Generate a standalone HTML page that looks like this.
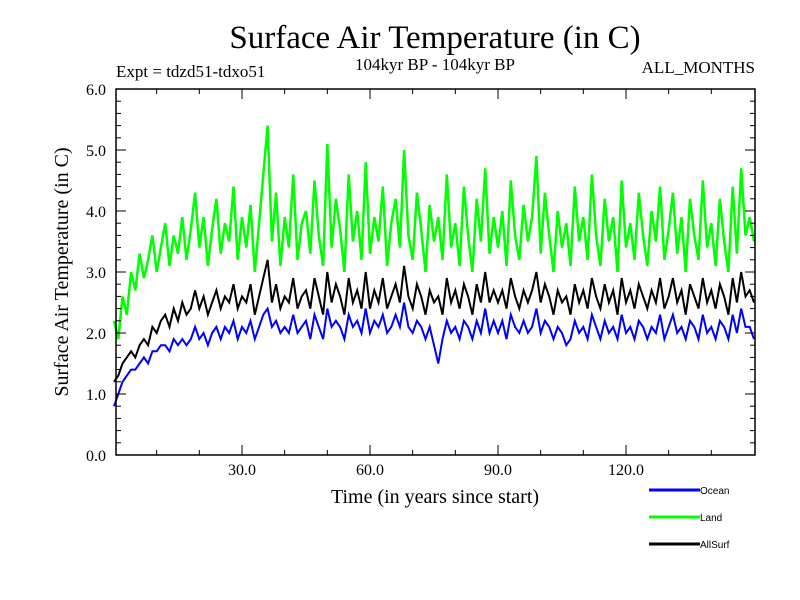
<!DOCTYPE html>
<html><head><meta charset="utf-8"><style>
body{margin:0;background:#fff;}
svg{display:block;font-family:"Liberation Serif",serif;}
</style></head><body>
<svg id="chart" width="800" height="600">
<text x="435" y="48" font-size="33" text-anchor="middle">Surface Air Temperature (in C)</text>
<text x="116" y="77" font-size="17">Expt = tdzd51-tdxo51</text>
<text x="435" y="70" font-size="17" text-anchor="middle">104kyr BP - 104kyr BP</text>
<text x="755" y="73" font-size="17" text-anchor="end">ALL_MONTHS</text>
<text transform="translate(68,272) rotate(-90)" font-size="20" text-anchor="middle">Surface Air Temperature (in C)</text>
<text x="435" y="503" font-size="20" text-anchor="middle">Time (in years since start)</text>
<g id="series"></g>
<g id="axes"></g>
<g id="legend"></g>
</svg>
<script>
const years=[];for(let i=0;i<=150;i++)years.push(i);
const yTicks=[0,1,2,3,4,5,6];
const yTickLabels=["0.0","1.0","2.0","3.0","4.0","5.0","6.0"];
const xTicks=[30,60,90,120];
const xTickLabels=["30.0","60.0","90.0","120.0"];
const land=[2.2,1.9,2.6,2.3,3.0,2.7,3.3,2.9,3.2,3.6,3.0,3.4,3.8,3.1,3.6,3.3,3.9,3.2,3.7,4.3,3.4,3.9,3.1,3.7,4.2,3.3,3.8,3.5,4.4,3.2,3.9,3.4,4.1,3.0,3.8,4.6,5.4,3.5,4.3,3.1,3.9,3.4,4.6,3.2,3.8,4.0,3.3,4.5,3.6,3.1,5.1,3.4,4.2,3.7,3.0,4.6,3.5,4.0,3.2,4.8,3.3,3.9,3.5,4.4,3.1,3.8,4.2,3.4,5.0,3.6,3.2,4.3,3.7,3.0,4.1,3.5,3.9,3.2,4.6,3.4,3.8,3.1,4.4,3.6,3.0,4.2,3.5,4.7,3.3,3.9,3.4,4.0,3.1,4.5,3.6,3.2,4.1,3.5,3.9,4.9,3.3,4.3,3.6,3.0,4.0,3.4,3.8,3.1,4.4,3.5,3.9,3.2,4.6,3.6,3.1,4.2,3.5,3.9,3.0,4.5,3.4,3.8,3.2,4.3,3.6,3.1,4.0,3.5,4.4,3.2,3.7,4.3,3.3,3.9,3.0,4.2,3.6,3.2,4.5,3.4,3.8,3.1,4.2,3.5,3.0,4.4,3.3,4.7,3.6,3.9,3.5];
const allSurf=[1.2,1.3,1.5,1.6,1.7,1.6,1.8,1.9,1.8,2.1,2.0,2.2,2.3,2.1,2.4,2.2,2.5,2.3,2.4,2.7,2.4,2.6,2.3,2.5,2.7,2.4,2.6,2.5,2.8,2.4,2.6,2.5,2.8,2.3,2.6,2.9,3.2,2.5,2.8,2.4,2.6,2.5,2.9,2.4,2.6,2.7,2.4,2.9,2.6,2.3,3.0,2.5,2.8,2.6,2.3,2.9,2.5,2.7,2.4,3.0,2.4,2.7,2.5,2.9,2.4,2.6,2.8,2.5,3.1,2.6,2.4,2.8,2.6,2.3,2.7,2.5,2.6,2.3,2.9,2.5,2.7,2.4,2.8,2.6,2.3,2.8,2.5,3.0,2.5,2.7,2.5,2.7,2.4,2.9,2.6,2.4,2.7,2.5,2.7,3.0,2.5,2.8,2.6,2.3,2.7,2.5,2.6,2.3,2.8,2.5,2.7,2.4,2.9,2.6,2.4,2.8,2.5,2.7,2.3,2.9,2.5,2.7,2.4,2.8,2.6,2.4,2.7,2.5,2.9,2.4,2.6,2.9,2.5,2.7,2.3,2.8,2.6,2.4,2.9,2.5,2.7,2.4,2.8,2.6,2.3,2.9,2.5,3.0,2.6,2.7,2.5];
const ocean=[0.8,1.0,1.2,1.3,1.4,1.4,1.5,1.6,1.5,1.7,1.7,1.8,1.8,1.7,1.9,1.8,1.9,1.8,1.9,2.1,1.9,2.0,1.8,2.0,2.1,1.9,2.1,2.0,2.2,1.9,2.1,2.0,2.2,1.9,2.1,2.3,2.4,2.1,2.2,2.0,2.1,2.0,2.3,2.0,2.1,2.2,1.9,2.3,2.1,1.9,2.4,2.1,2.2,2.1,1.9,2.3,2.1,2.2,2.0,2.4,2.0,2.2,2.1,2.3,2.0,2.1,2.3,2.1,2.5,2.1,2.0,2.2,2.1,1.9,2.1,1.8,1.5,1.9,2.2,2.0,2.1,1.9,2.2,2.1,1.9,2.2,2.0,2.4,2.0,2.2,2.0,2.2,1.9,2.3,2.1,2.0,2.2,2.0,2.1,2.4,2.0,2.2,2.1,1.9,2.1,2.0,1.8,1.9,2.2,2.0,2.1,1.9,2.3,2.1,1.9,2.2,2.0,2.1,1.9,2.3,2.0,2.1,1.9,2.2,2.1,1.9,2.1,2.0,2.3,1.9,2.1,2.3,2.0,2.1,1.9,2.2,2.1,1.9,2.3,2.0,2.1,1.9,2.2,2.1,1.9,2.3,2.0,2.4,2.1,2.1,1.9];
const L=116,R=755,T=89,B=455;
const xs=v=>114+v*(128/30);
const ys=v=>B-v*(B-T)/6;
const NS="http://www.w3.org/2000/svg";
function mk(tag,attrs,parent){const e=document.createElementNS(NS,tag);for(const k in attrs)e.setAttribute(k,attrs[k]);parent.appendChild(e);return e;}
const sg=document.getElementById('series');
[["land",land,"#00ff00",2.5],["allsurf",allSurf,"#000000",2],["ocean",ocean,"#0000ff",2]].forEach(([n,d,c,w])=>{
  const pts=d.map((v,i)=>xs(years[i]).toFixed(1)+","+ys(v).toFixed(1)).join(" ");
  const p=mk('polyline',{points:pts,fill:"none",stroke:c,"stroke-width":w},sg);
  
  
});
const ag=document.getElementById('axes');
const fr=mk('rect',{x:L,y:T,width:R-L,height:B-T,fill:"none",stroke:"#000","stroke-width":1.5},ag);


for(let v=0;v<=6.001;v+=0.2){const y=ys(v);const major=Math.abs(v-Math.round(v))<0.01;const len=major?10:5;
  mk('line',{x1:L,x2:L+len,y1:y,y2:y,stroke:"#000","stroke-width":1},ag);
  mk('line',{x1:R,x2:R-len,y1:y,y2:y,stroke:"#000","stroke-width":1},ag);}
for(let v=10;v<150;v+=10){const x=xs(v);const len=(v%30===0)?10:5;
  mk('line',{x1:x,x2:x,y1:B,y2:B-len,stroke:"#000","stroke-width":1},ag);
  mk('line',{x1:x,x2:x,y1:T,y2:T+len,stroke:"#000","stroke-width":1},ag);}
yTicks.forEach((v,i)=>{const t=mk('text',{x:106,y:ys(v)+6,"font-size":16,"text-anchor":"end"},ag);t.textContent=yTickLabels[i];
  
  });
xTicks.forEach((v,i)=>{const t=mk('text',{x:xs(v),y:475,"font-size":16,"text-anchor":"middle"},ag);t.textContent=xTickLabels[i];
  
  });
const lg=document.getElementById('legend');
[["Ocean","#0000ff",490],["Land","#00ff00",517],["AllSurf","#000000",544]].forEach(([n,c,y])=>{
  const g=mk('g',{},lg);
  
  
  mk('line',{x1:649,x2:700,y1:y,y2:y,stroke:c,"stroke-width":3},g);
  const t=mk('text',{x:700,y:y+4,"font-size":10,"font-family":"Liberation Sans, sans-serif"},g);t.textContent=n;
});
</script>
</body></html>
